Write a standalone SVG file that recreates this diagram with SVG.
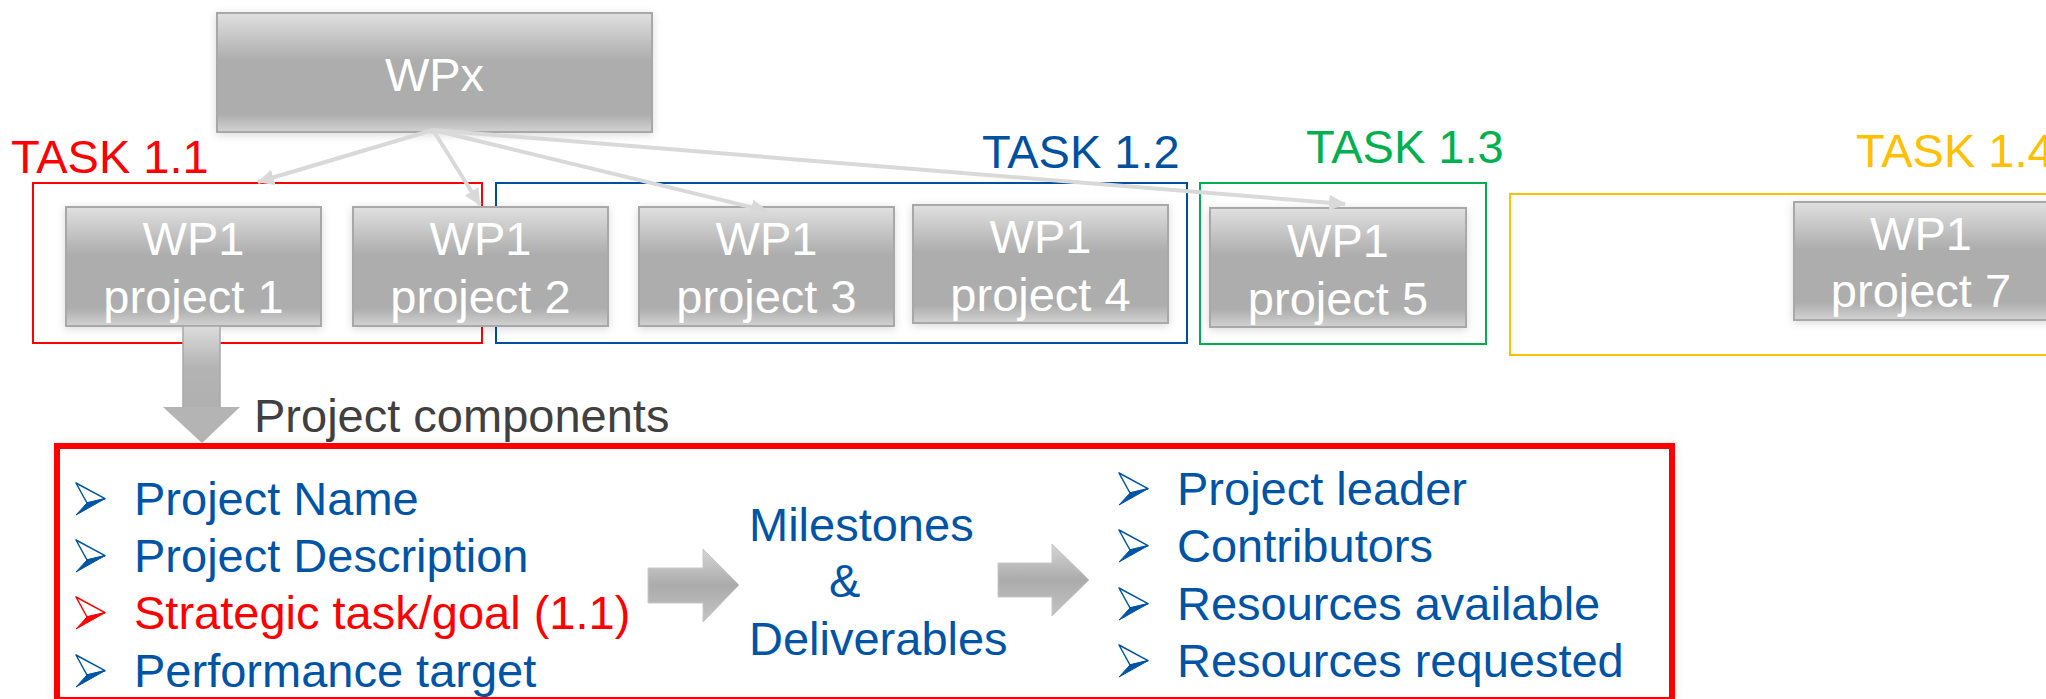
<svg xmlns="http://www.w3.org/2000/svg" xmlns:xlink="http://www.w3.org/1999/xlink" width="2046" height="699" viewBox="0 0 2046 699">
<style>
text{font-family:"Liberation Sans",Arial,sans-serif;font-size:47px}
.box{fill:url(#gbox);stroke:#a8a8a8;stroke-width:2;filter:url(#sh)}
.wt{fill:#ffffff;text-anchor:middle}
.task{fill:none;stroke-width:2}
.conn{stroke:#d9d9d9;stroke-width:4;fill:none;marker-end:url(#ah)}
.blue{fill:#0054a6}
.red{fill:#ff0000}
.garrow{fill:url(#garr);stroke:#c8c8c8;stroke-width:1}
</style>
<defs>
<linearGradient id="gbox" x1="0" y1="0" x2="0" y2="1">
<stop offset="0" stop-color="#e0e0e0"/>
<stop offset="0.4" stop-color="#adadad"/>
<stop offset="0.85" stop-color="#adadad"/>
<stop offset="1" stop-color="#d2d2d2"/>
</linearGradient>
<linearGradient id="gstem" x1="0" y1="0" x2="0" y2="1">
<stop offset="0" stop-color="#dcdcdc"/>
<stop offset="0.5" stop-color="#b4b4b4"/>
<stop offset="1" stop-color="#b0b0b0"/>
</linearGradient>
<linearGradient id="garr" x1="0" y1="0" x2="0" y2="1">
<stop offset="0" stop-color="#d6d6d6"/>
<stop offset="0.5" stop-color="#ababab"/>
<stop offset="1" stop-color="#c4c4c4"/>
</linearGradient>
<filter id="sh" x="-10%" y="-10%" width="120%" height="130%">
<feDropShadow dx="0" dy="2" stdDeviation="4" flood-color="#000" flood-opacity="0.15"/>
</filter>
<filter id="soft" x="-5%" y="-5%" width="110%" height="110%">
<feDropShadow dx="0" dy="0" stdDeviation="5" flood-color="#000" flood-opacity="0.08"/>
</filter>
<marker id="ah" markerUnits="userSpaceOnUse" markerWidth="18" markerHeight="16" refX="16" refY="8" orient="auto">
<path d="M0,0 L17,8 L0,16 Z" fill="#d9d9d9"/>
</marker>
<g id="bul">
<path d="M0,0 L29,15.7 L11,20 Z" fill="#ffffff" stroke="currentColor" stroke-width="1.5" stroke-linejoin="round"/>
<path d="M29,15.7 L0,32 L11,20 Z" fill="currentColor" stroke="currentColor" stroke-width="1" stroke-linejoin="round"/>
</g>
</defs>
<rect width="2046" height="699" fill="#ffffff"/>

<g id="task11">
<rect class="task" x="33" y="183" width="449" height="160" stroke="#ff0000"/>
<text x="11" y="173" fill="#ff0000">TASK 1.1</text>
</g>
<g id="task12">
<rect class="task" x="496" y="183" width="691" height="160" stroke="#0050a0"/>
<text x="982" y="168" fill="#0050a0">TASK 1.2</text>
</g>
<g id="task13">
<rect class="task" x="1200" y="183" width="286" height="161" stroke="#00b050"/>
<text x="1306" y="163" fill="#00b050">TASK 1.3</text>
</g>
<g id="task14">
<rect class="task" x="1510" y="194" width="560" height="161" stroke="#ffc000"/>
<text x="1856" y="167" fill="#ffc000">TASK 1.4</text>
</g>

<g id="wpx">
<rect class="box" x="217" y="13" width="435" height="119"/>
<text class="wt" x="434.5" y="91">WPx</text>
</g>
<g id="p1">
<rect class="box" x="66" y="207" width="255" height="119"/>
<text class="wt" x="193.5" y="255">WP1</text>
<text class="wt" x="193.5" y="313">project 1</text>
</g>
<g id="p2">
<rect class="box" x="353" y="207" width="255" height="119"/>
<text class="wt" x="480.5" y="255">WP1</text>
<text class="wt" x="480.5" y="313">project 2</text>
</g>
<g id="p3">
<rect class="box" x="639" y="207" width="255" height="119"/>
<text class="wt" x="766.5" y="255">WP1</text>
<text class="wt" x="766.5" y="313">project 3</text>
</g>
<g id="p4">
<rect class="box" x="913" y="205" width="255" height="118"/>
<text class="wt" x="1040.5" y="253">WP1</text>
<text class="wt" x="1040.5" y="311">project 4</text>
</g>
<g id="p5">
<rect class="box" x="1210" y="208" width="256" height="119"/>
<text class="wt" x="1338" y="257">WP1</text>
<text class="wt" x="1338" y="315">project 5</text>
</g>
<g id="p7">
<rect class="box" x="1794" y="202" width="256" height="118"/>
<text class="wt" x="1921" y="250">WP1</text>
<text class="wt" x="1921" y="307">project 7</text>
</g>

<g id="connectors">
<line class="conn" x1="433" y1="130" x2="258" y2="182"/>
<line class="conn" x1="433" y1="130" x2="480" y2="205"/>
<line class="conn" x1="433" y1="130" x2="767" y2="211"/>
<line class="conn" x1="433" y1="130" x2="1345" y2="204"/>
</g>

<g id="down-arrow">
<rect x="183" y="326" width="37" height="82" fill="url(#gstem)" stroke="#a8a8a8" stroke-width="1.5"/>
<path d="M163,407 L240,407 L202,443 Z" fill="#b4b4b4"/>
</g>
<g id="components-label">
<text x="254" y="432" fill="#404040">Project components</text>
</g>

<g id="components">
<rect x="57" y="446" width="1615" height="254" fill="#ffffff" stroke="#ff0000" stroke-width="6" filter="url(#soft)"/>
<use xlink:href="#bul" x="76" y="483" color="#0054a6"/>
<text class="blue" x="134" y="515">Project Name</text>
<use xlink:href="#bul" x="76" y="540" color="#0054a6"/>
<text class="blue" x="134" y="572">Project Description</text>
<use xlink:href="#bul" x="76" y="597" color="#ff0000"/>
<text class="red" x="134" y="629">Strategic task/goal (1.1)</text>
<use xlink:href="#bul" x="76" y="655" color="#0054a6"/>
<text class="blue" x="134" y="687">Performance target</text>
</g>

<g id="arrow1">
<path class="garrow" d="M648,568 L703,568 L703,549 L739,585 L703,622 L703,603 L648,603 Z"/>
</g>
<g id="milestones">
<text class="blue" x="749" y="541">Milestones</text>
<text class="blue" x="829" y="597">&amp;</text>
<text class="blue" x="749" y="655">Deliverables</text>
</g>
<g id="arrow2">
<path class="garrow" d="M998,563 L1052,563 L1052,544 L1089,580 L1052,616 L1052,597 L998,597 Z"/>
</g>
<g id="resources">
<use xlink:href="#bul" x="1119" y="473" color="#0054a6"/>
<text class="blue" x="1177" y="505">Project leader</text>
<use xlink:href="#bul" x="1119" y="530" color="#0054a6"/>
<text class="blue" x="1177" y="562">Contributors</text>
<use xlink:href="#bul" x="1119" y="588" color="#0054a6"/>
<text class="blue" x="1177" y="620">Resources available</text>
<use xlink:href="#bul" x="1119" y="645" color="#0054a6"/>
<text class="blue" x="1177" y="677">Resources requested</text>
</g>
</svg>
